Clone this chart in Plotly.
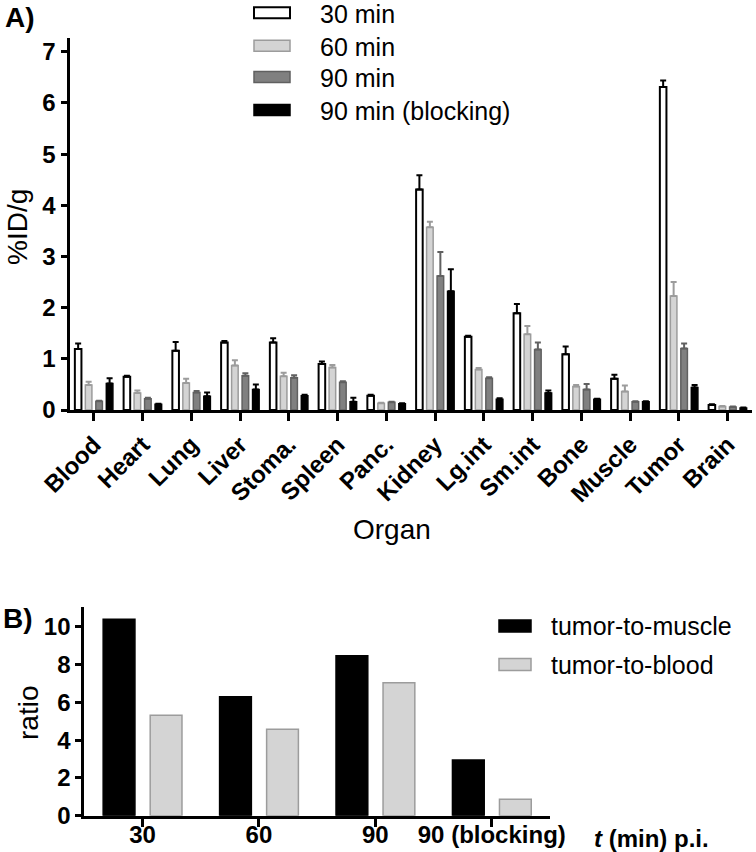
import plotly.graph_objects as go

# ---------------- data ----------------
organs = ["Blood", "Heart", "Lung", "Liver", "Stoma.", "Spleen", "Panc.",
          "Kidney", "Lg.int", "Sm.int", "Bone", "Muscle", "Tumor", "Brain"]
min30 = [1.19, 0.65, 1.16, 1.32, 1.32, 0.90, 0.28, 4.31, 1.43, 1.89, 1.09, 0.61, 6.31, 0.10]
min30_err = [0.11, 0.02, 0.17, 0.03, 0.08, 0.05, 0.02, 0.28, 0.02, 0.18, 0.15, 0.08, 0.13, 0.01]
min60 = [0.49, 0.33, 0.53, 0.87, 0.66, 0.83, 0.13, 3.57, 0.79, 1.48, 0.46, 0.36, 2.23, 0.07]
min60_err = [0.06, 0.05, 0.08, 0.10, 0.07, 0.05, 0.01, 0.11, 0.03, 0.16, 0.03, 0.12, 0.27, 0.01]
min90 = [0.17, 0.22, 0.34, 0.67, 0.63, 0.54, 0.15, 2.62, 0.62, 1.18, 0.40, 0.16, 1.20, 0.06]
min90_err = [0.01, 0.02, 0.03, 0.05, 0.05, 0.02, 0.01, 0.47, 0.02, 0.14, 0.11, 0.01, 0.10, 0.01]
block90 = [0.52, 0.11, 0.27, 0.40, 0.28, 0.16, 0.12, 2.32, 0.21, 0.33, 0.21, 0.16, 0.44, 0.04]
block90_err = [0.10, 0.01, 0.07, 0.10, 0.02, 0.08, 0.01, 0.43, 0.02, 0.05, 0.01, 0.01, 0.05, 0.01]
series_names = ["30 min", "60 min", "90 min", "90 min (blocking)"]

times = ["30", "60", "90", "90 (blocking)"]
tumor_to_muscle = [10.39, 6.30, 8.47, 2.95]
tumor_to_blood = [5.31, 4.57, 7.04, 0.87]
ratio_names = ["tumor-to-muscle", "tumor-to-blood"]

# ---------------- style ----------------
W, H = 756, 852
FONT = "Liberation Sans, Arial, sans-serif"
fills = ["#ffffff", "#d4d4d4", "#808080", "#000000"]
lines = ["#000000", "#9c9c9c", "#606060", "#000000"]
lws = [2, 1.5, 1.5, 1.5]

def px(x):
    return x / W

def py(y):
    return 1 - y / H

fig = go.Figure()

# Panel A bars
vals = [min30, min60, min90, block90]
errs = [min30_err, min60_err, min90_err, block90_err]
slot, bw, start = 0.215, 0.135, -0.39
for i in range(4):
    fig.add_trace(go.Bar(
        x=organs, y=vals[i], name=series_names[i],
        xaxis="x", yaxis="y",
        width=bw, offset=start + i * slot,
        marker=dict(color=fills[i], line=dict(color=lines[i], width=lws[i])),
        error_y=dict(type="data", array=errs[i], arrayminus=[0] * len(organs),
                     symmetric=False, color=lines[i], thickness=2, width=3),
        showlegend=False,
    ))

# Panel B bars
rfills = ["#000000", "#d4d4d4"]
rlines = ["#000000", "#9c9c9c"]
rvals = [tumor_to_muscle, tumor_to_blood]
roffs = [-0.338, 0.066]
for i in range(2):
    fig.add_trace(go.Bar(
        x=times, y=rvals[i], name=ratio_names[i],
        xaxis="x2", yaxis="y2",
        width=0.273, offset=roffs[i],
        marker=dict(color=rfills[i], line=dict(color=rlines[i], width=1.5)),
        showlegend=False,
    ))

tickfont = dict(family=FONT, size=24, color="black", weight="bold")
axis_common = dict(showline=True, linecolor="black", linewidth=3, ticks="outside",
                   tickcolor="black", tickwidth=3, showgrid=False, zeroline=False,
                   automargin=False)

fig.update_layout(
    template="none",
    width=W, height=H,
    margin=dict(l=0, r=0, t=0, b=0, pad=0),
    paper_bgcolor="white", plot_bgcolor="white",
    barmode="overlay",
    showlegend=False,
    xaxis=dict(domain=[px(69.5), px(752)], range=[-0.5, 13.5], type="category",
               anchor="y", ticklen=8, tickangle=-45, tickfont=tickfont,
               categoryorder="array", categoryarray=organs, **axis_common),
    yaxis=dict(domain=[py(410), py(38)], range=[0, 7.27], anchor="x",
               tickvals=[0, 1, 2, 3, 4, 5, 6, 7], ticklen=6, tickfont=tickfont,
               **axis_common),
    xaxis2=dict(domain=[px(84.3), px(550)], range=[-0.5, 3.5], type="category",
                anchor="y2", ticklen=8, tickangle=0, ticklabelstandoff=-13,
                tickfont=dict(family=FONT, size=24, color="black", weight="bold"),
                categoryorder="array", categoryarray=times, **axis_common),
    yaxis2=dict(domain=[py(815.7), py(606.7)], range=[0, 11.06], anchor="x2",
                tickvals=[0, 2, 4, 6, 8, 10], ticklen=6, tickfont=tickfont,
                **axis_common),
)

ann = []
def text(x, y, s, size, bold=False, angle=0, xanchor="center", family=FONT):
    ann.append(dict(x=px(x), y=py(y), xref="paper", yref="paper", text=s,
                    showarrow=False, textangle=angle, xanchor=xanchor, yanchor="middle",
                    font=dict(family=family, size=size, color="black",
                              weight="bold" if bold else "normal")))

text(3, 17, "A)", 28, bold=True, xanchor="left")
text(1, 618, "B)", 28, bold=True, xanchor="left")
text(17, 227, "%ID/g", 28, angle=-90)
text(392, 529, "Organ", 28)
text(28, 713, "ratio", 28, angle=-90)
text(651, 838, "<i>t</i> (min) p.i.", 24, bold=True)

# Panel A legend (drawn manually to match wide swatches)
shapes = []
leg_y = [12.8, 45.8, 77.0, 110.0]
for i in range(4):
    shapes.append(dict(type="rect", xref="paper", yref="paper",
                       x0=px(254), x1=px(290), y0=py(leg_y[i] - 5.5), y1=py(leg_y[i] + 5.5),
                       fillcolor=fills[i], line=dict(color=lines[i], width=lws[i])))
    text(318, leg_y[i] + 1, series_names[i], 25, xanchor="left")

# Panel B legend
rleg_y = [626.0, 664.5]
for i in range(2):
    shapes.append(dict(type="rect", xref="paper", yref="paper",
                       x0=px(499), x1=px(531), y0=py(rleg_y[i] - 6), y1=py(rleg_y[i] + 6),
                       fillcolor=rfills[i], line=dict(color=rlines[i], width=1.5)))
    text(549, rleg_y[i], ratio_names[i], 25, xanchor="left")

fig.update_layout(annotations=ann, shapes=shapes)
fig.write_html("out.html", config={"displayModeBar": False},
               post_script="document.body.style.margin='0px';document.body.style.overflow='hidden';")
